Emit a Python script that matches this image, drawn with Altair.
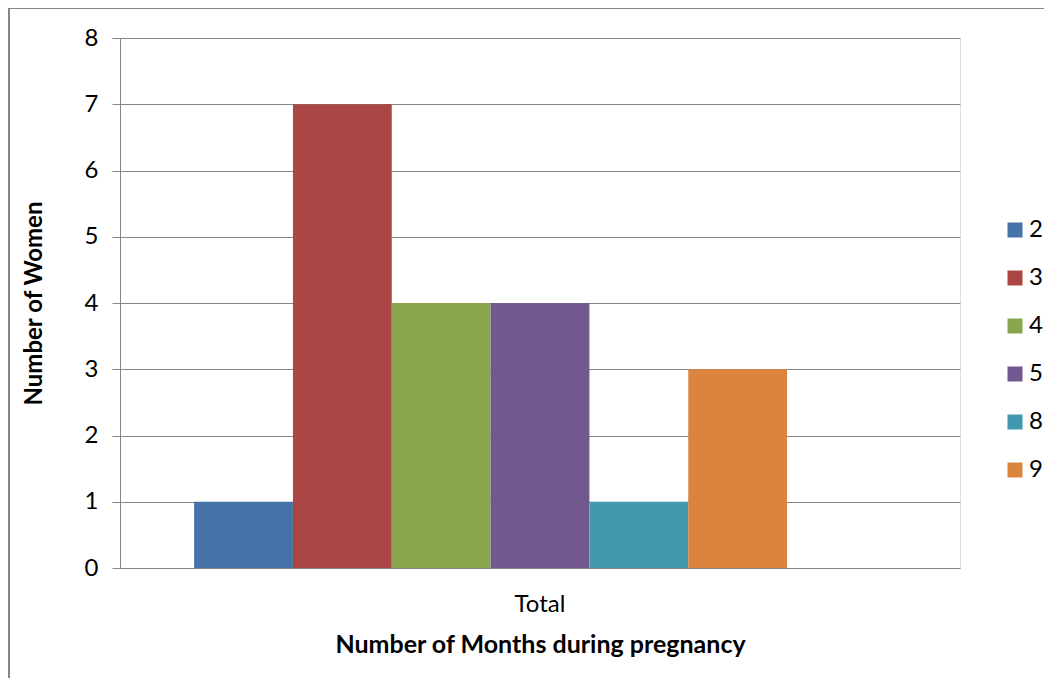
import altair as alt
import pandas as pd

series = ["2", "3", "4", "5", "8", "9"]
values = [1, 7, 4, 4, 1, 3]
category = ["Total"] * 6
colors = ["#4572A7", "#AA4643", "#89A54E", "#71588F", "#4198AF", "#DB843D"]
y_ticks = [0, 1, 2, 3, 4, 5, 6, 7, 8]

df = pd.DataFrame({"cat": category, "series": series, "value": values})

FONT = "Lato"
FS = 24

bars = alt.Chart(df).mark_bar(size=98.8).encode(
    x=alt.X("cat:N", scale=alt.Scale(paddingInner=0, paddingOuter=0),
            axis=alt.Axis(title="Number of Months during pregnancy", labelAngle=0,
                          labelFontSize=FS, labelFont=FONT, labelColor="black",
                          labelPadding=24, ticks=False, domain=False,
                          titleFontSize=25, titleFont=FONT, titleFontWeight="bold",
                          titleColor="black", titlePadding=16)),
    xOffset=alt.XOffset("series:N",
                        scale=alt.Scale(domain=series + [" "], paddingInner=0, paddingOuter=0.75)),
    y=alt.Y("value:Q", scale=alt.Scale(domain=[0, 8], nice=False),
            axis=alt.Axis(title="Number of Women", values=y_ticks, labelOverlap=False,
                          labelFontSize=FS, labelFont=FONT, labelColor="black",
                          labelPadding=14, tickSize=8, tickColor="#868686",
                          domainColor="#868686", gridColor="#868686", gridWidth=1,
                          titleFontSize=FS, titleFont=FONT, titleFontWeight="bold",
                          titleColor="black", titlePadding=38)),
    color=alt.Color("series:N", scale=alt.Scale(domain=series, range=colors),
                    legend=alt.Legend(title=None, orient="none", legendX=883, legendY=180,
                                      symbolType="square", symbolSize=225,
                                      symbolStrokeWidth=0, labelFontSize=FS,
                                      labelFont=FONT, labelColor="black",
                                      labelOffset=2, rowPadding=24, padding=0)),
)

frame_left = alt.Chart(df).mark_rule(color="#868686", strokeWidth=1.5).encode(
    x=alt.value(-111), y=alt.value(-30), y2=alt.value(700))
frame_top = alt.Chart(df).mark_rule(color="#868686", strokeWidth=1.5).encode(
    x=alt.value(-111), x2=alt.value(1000), y=alt.value(-30))

chart = alt.layer(bars, frame_left, frame_top).properties(
    width=840, height=530,
    autosize=alt.AutoSizeParams(type="none"),
    padding={"left": 112, "top": 30, "right": 84, "bottom": 110},
).configure_view(stroke=None).configure(background="white")

chart.save("out.html", embed_options={"renderer": "svg", "actions": False})
